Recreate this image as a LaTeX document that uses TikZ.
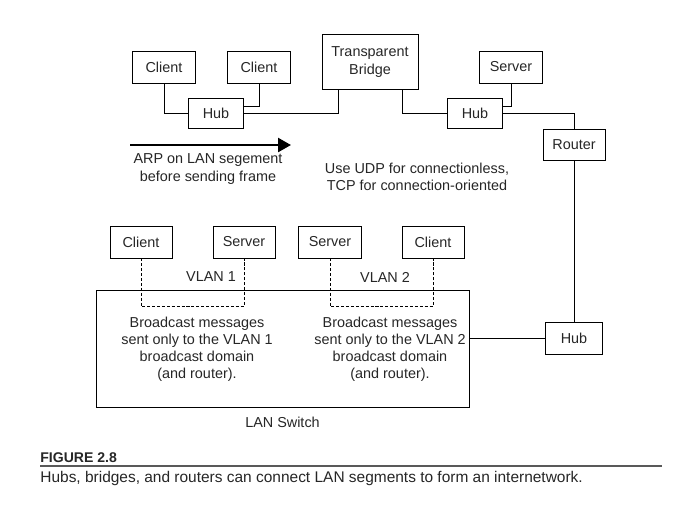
\documentclass[tikz,border=0pt]{standalone}
\usepackage{fontspec}
\setmainfont{Liberation Sans}
\usetikzlibrary{arrows.meta,calc,positioning}
\tikzset{
        box/.style = {draw, rectangle, line width=0.7pt,
            minimum height=9.6mm,
            minimum width=18.9mm},
        hub/.style = {box, minimum width=16.5mm, minimum height=9mm},
        wire/.style = {draw, line width=0.7pt},
        vlan/.style = {draw, line width=0.6pt, dash pattern=on 2.6pt off 1.6pt},
        note/.style = {align=center},
    }

\begin{document}
\begin{tikzpicture}[x=0.3mm, y=-0.3mm, every node/.style={font=\fontsize{12.3}{14.6}\selectfont, text=black!85, inner sep=1pt}]
    \useasboundingbox (0,0) rectangle (687,505);

    % top segment
    \node[box] (c1) at (164,67) {Client};
    \node[box] (c2) at (259,67) {Client};
    \node[hub] (hub1) at (216,113) {Hub};
    \node[box, minimum width=28.8mm, minimum height=16.5mm, align=center] (bridge) at (370,62) {Transparent\\Bridge};
    \node[box] (srv) at (511,67) {Server};
    \node[hub] (hub2) at (475,113) {Hub};
    \node[box, minimum width=18.6mm, minimum height=9.3mm] (router) at (574,145) {Router};
    \node[hub, minimum width=17.1mm, minimum height=9.6mm] (hub3) at (574,338) {Hub};

    \draw[wire] (c1.south) |- (hub1.west);
    \draw[wire] (c2.south) |- ($(hub1.east)+(0,-7)$);
    \draw[wire] (hub1.east) -| ($(bridge.south west)+(17,0)$);
    \draw[wire] ($(bridge.south east)+(-16,0)$) |- (hub2.west);
    \draw[wire] (srv.south) |- ($(hub2.east)+(0,-7)$);
    \draw[wire] (hub2.east) -| (router.north);
    \draw[wire] (router.south) -- (hub3.north);

    % notes
    \coordinate (arpstart) at (130,145);
    \coordinate (arpend) at (291,145);
    \draw[line width=0.75mm, -{Triangle[length=3.9mm,width=4.2mm]}] (arpstart) -- (arpend);
    \node[note] (arp) at (208,169) {ARP on LAN segement\\before sending frame};
    \node[note] (udp) at (417,177) {Use UDP for connectionless,\\TCP for connection-oriented};

    % switched segment
    \node[box, minimum width=111.9mm, minimum height=35.1mm] (lanswitch) at (282.5,348.5) {};
    \node[below=2.5mm of lanswitch] (lslabel) {LAN Switch};
    \node[box, minimum width=18.6mm] (c3) at (141,242) {Client};
    \node[box, minimum width=18.6mm] (s3) at (244,242) {Server};
    \node[box, minimum width=18.9mm] (s4) at (330,242) {Server};
    \node[box, minimum width=18.6mm] (c4) at (433,242) {Client};
    \node (vl1) at (211,277) {VLAN 1};
    \node (vl2) at (385,277) {VLAN 2};
    \draw[vlan] (c3.south) -- ++(0,48) -| (s3.south);
    \draw[vlan] (s4.south) -- ++(0,48) -| (c4.south);
    \node[note] (bc1) at (197,349) {Broadcast messages\\sent only to the VLAN 1\\broadcast domain\\(and router).};
    \node[note] (bc2) at (390,349) {Broadcast messages\\sent only to the VLAN 2\\broadcast domain\\(and router).};
    \draw[wire] (hub3.west) -- (hub3.west -| lanswitch.east);

    % caption
    \node[anchor=west, font=\fontsize{12}{14}\bfseries] (fig) at (39,458) {FIGURE 2.8};
    \coordinate (rulea) at (40,466);
    \coordinate (ruleb) at (662,466);
    \draw[line width=0.6mm, black!65] (rulea) -- (ruleb);
    \node[anchor=west, font=\fontsize{13.2}{15}\selectfont] (cap) at (39,478) {Hubs, bridges, and routers can connect LAN segments to form an internetwork.};
\end{tikzpicture}
\end{document}
